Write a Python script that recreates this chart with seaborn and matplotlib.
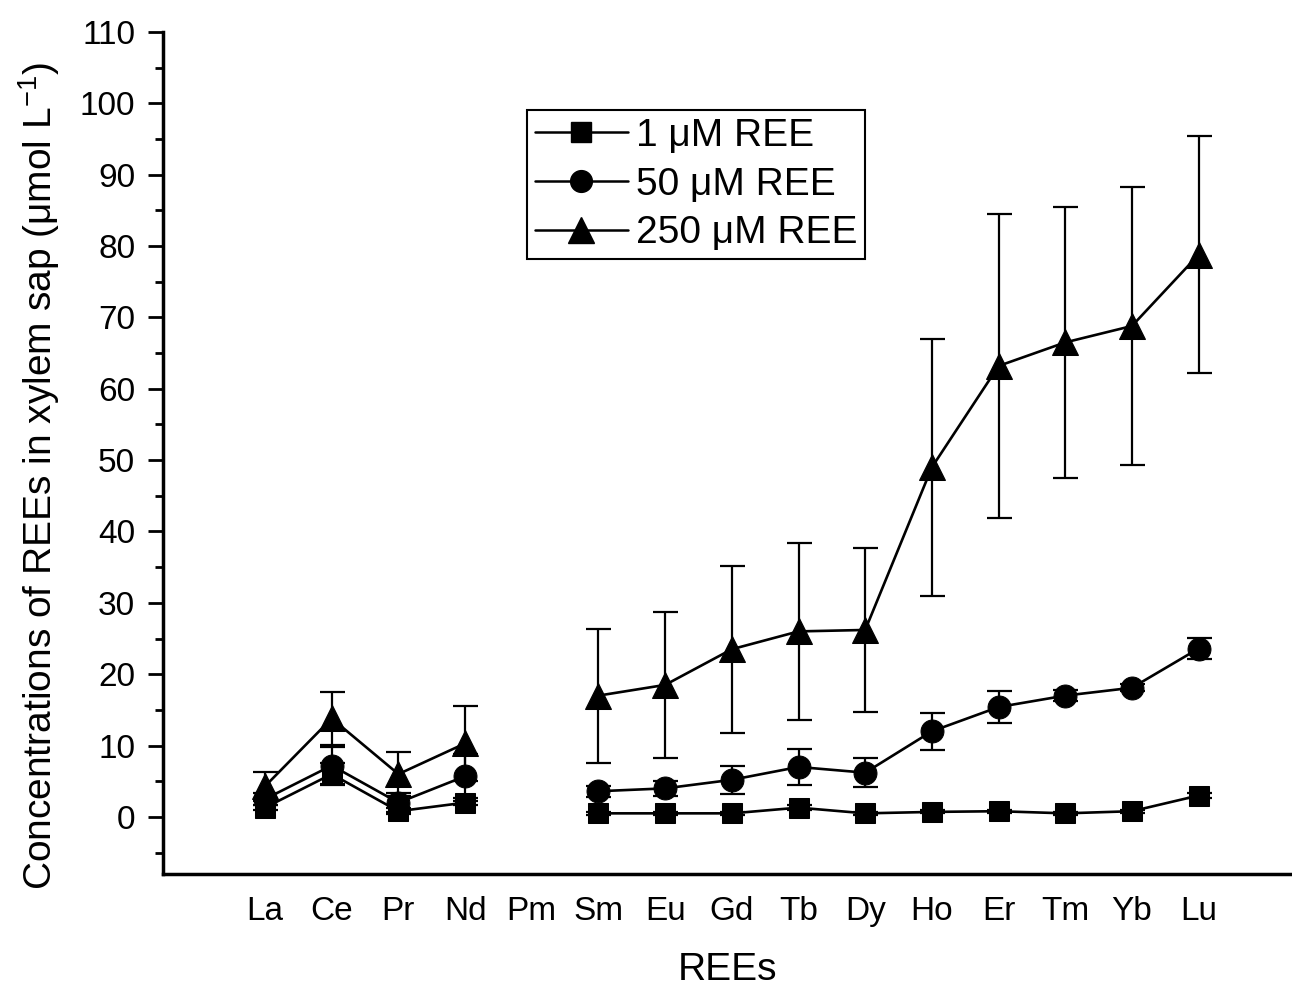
import numpy as np
import pandas as pd
import matplotlib
matplotlib.use("Agg")
import matplotlib.pyplot as plt
import seaborn as sns
from matplotlib.lines import Line2D

elements = ["La", "Ce", "Pr", "Nd", "Pm", "Sm", "Eu", "Gd", "Tb", "Dy", "Ho", "Er", "Tm", "Yb", "Lu"]
series_names = ["1 μM REE", "50 μM REE", "250 μM REE"]

conc_1 = [1.3, 6.0, 0.8, 2.0, np.nan, 0.5, 0.5, 0.5, 1.3, 0.5, 0.7, 0.8, 0.5, 0.8, 3.0]
err_1 = [0.3, 1.5, 0.4, 0.3, np.nan, 0.2, 0.2, 0.2, 0.3, 0.2, 0.2, 0.2, 0.2, 0.2, 0.3]
conc_50 = [2.5, 7.2, 2.0, 5.7, np.nan, 3.6, 4.0, 5.2, 7.0, 6.2, 12.0, 15.4, 17.0, 18.1, 23.6]
err_50 = [0.8, 2.6, 1.3, 3.1, np.nan, 0.8, 1.0, 2.0, 2.5, 2.0, 2.6, 2.2, 0.8, 0.5, 1.5]
conc_250 = [4.3, 13.8, 6.0, 10.3, np.nan, 17.0, 18.5, 23.5, 26.0, 26.2, 49.0, 63.2, 66.5, 68.8, 78.8]
err_250 = [2.0, 3.7, 3.1, 5.3, np.nan, 9.4, 10.2, 11.7, 12.4, 11.5, 18.0, 21.3, 19.0, 19.5, 16.6]

sns.set_style("ticks")
plt.rcParams["font.family"] = ["Liberation Sans", "DejaVu Sans"]
plt.rcParams["mathtext.fontset"] = "custom"
plt.rcParams["mathtext.rm"] = "Liberation Sans"
plt.rcParams["mathtext.it"] = "Liberation Sans:italic"
plt.rcParams["mathtext.default"] = "regular"
for k in ["text.color", "axes.labelcolor", "xtick.color", "ytick.color", "axes.edgecolor"]:
    plt.rcParams[k] = "black"

fig = plt.figure(figsize=(12.92, 9.88), dpi=100)
ax = fig.add_axes([163 / 1292, 1 - 874 / 988, 1 - 163 / 1292, (874 - 32) / 988])

x = np.arange(len(elements))
segment = np.where(x < elements.index("Pm"), 0, 1)

markers = ["s", "o", "^"]
msizes = [15, 16.5, 19]
all_conc = [conc_1, conc_50, conc_250]
all_err = [err_1, err_50, err_250]

for name, conc, err, mk, ms in zip(series_names, all_conc, all_err, markers, msizes):
    df = pd.DataFrame({"x": x, "y": conc, "seg": segment}).dropna()
    ax.errorbar(x, conc, yerr=err, fmt="none", ecolor="black", elinewidth=1.6,
                capsize=9, capthick=1.6, zorder=2)
    sns.lineplot(data=df, x="x", y="y", units="seg", estimator=None, ax=ax,
                 color="black", linewidth=1.9, marker=mk, markersize=ms,
                 markeredgecolor="black", markerfacecolor="black", zorder=3,
                 legend=False)

ax.set_xlim(-1.53, 15.4)
ax.set_ylim(-8, 110)
ax.set_xticks(x)
ax.set_xticklabels(elements)
ax.set_yticks(np.arange(0, 111, 10))
ax.set_yticks(np.arange(-5, 111, 5), minor=True)
ax.tick_params(axis="x", length=0, pad=16, labelsize=24)
ax.tick_params(axis="y", which="major", length=11, width=2, pad=9, labelsize=24, direction="out")
ax.tick_params(axis="y", which="minor", length=6, width=2, direction="out")

for s in ["top", "right"]:
    ax.spines[s].set_visible(False)
for s in ["left", "bottom"]:
    ax.spines[s].set_linewidth(2.5)
    ax.spines[s].set_color("black")

ax.set_xlabel("REEs", fontsize=28, labelpad=18)
ax.set_ylabel("Concentrations of REEs in xylem sap ($\\mu$mol L$^{-1}$)", fontsize=28)
ax.yaxis.set_label_coords(-0.0895, 0.4727)

handles = [Line2D([0], [0], color="black", lw=1.8, marker=mk, markersize=ms * 0.95,
                  markerfacecolor="black", markeredgecolor="black")
           for mk, ms in zip(markers, msizes)]
leg = ax.legend(handles, series_names, loc="upper left",
                bbox_to_anchor=(527 / 1292, 1 - 110 / 988), bbox_transform=fig.transFigure,
                fontsize=28, frameon=True, fancybox=False, framealpha=1,
                edgecolor="black", handlelength=2.4, handletextpad=0.2,
                borderpad=0.2, labelspacing=0.33, borderaxespad=0)
leg.get_frame().set_linewidth(1.5)

fig.savefig("out.png", dpi=100)
